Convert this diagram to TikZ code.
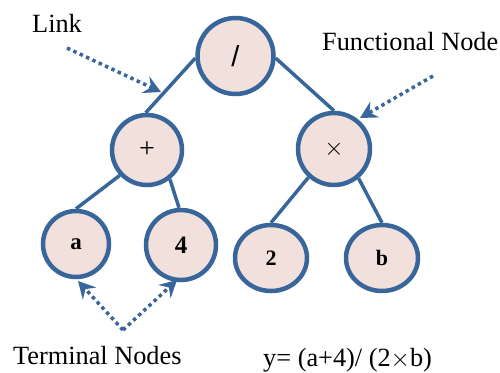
\documentclass[tikz,border=0pt]{standalone}
\usepackage{fontspec}
\setmainfont{Liberation Serif}
\newfontfamily\lsans{Liberation Sans}
\usetikzlibrary{arrows.meta,shapes.geometric}
\definecolor{edgeblue}{HTML}{38659A}
\definecolor{nodefill}{HTML}{F2E0DC}
\begin{document}
\begin{tikzpicture}[x=1pt,y=-1pt,
  tnode/.style={ellipse, draw=edgeblue, fill=nodefill, line width=4.5pt, inner sep=0pt},
  link/.style={draw=edgeblue, line width=3.5pt},
  pointer/.style={draw=edgeblue, line width=3.5pt, dash pattern=on 3.5pt off 3.5pt,
     -{Stealth[length=17pt,width=18pt,inset=6pt,fill=edgeblue]}},
  lbl/.style={font=\fontsize{26.3}{30}\selectfont, anchor=base west, inner sep=0pt}]
\useasboundingbox (0,0) rectangle (500,372);
% nodes
\node[tnode, minimum width=76pt, minimum height=76pt] (root) at (235.5,56) {\lsans\fontsize{29}{30}\selectfont /};
\node[tnode, minimum width=70pt, minimum height=70pt] (plus) at (147,150) {\fontsize{28}{30}\selectfont +};
\node[tnode, minimum width=72pt, minimum height=72pt] (times) at (334,149) {\fontsize{26}{28}\selectfont $\times$};
\node[tnode, minimum width=66pt, minimum height=66pt] (a) at (76,244) {\bfseries\fontsize{23}{25}\selectfont a};
\node[tnode, minimum width=70pt, minimum height=70pt] (four) at (181,245) {\bfseries\fontsize{25}{27}\selectfont 4};
\node[tnode, minimum width=72pt, minimum height=66pt] (two) at (271,258) {\bfseries\fontsize{22}{24}\selectfont 2};
\node[tnode, minimum width=72pt, minimum height=66pt] (b) at (382,258) {\bfseries\fontsize{22}{24}\selectfont b};
% links
\draw[link] (root.183) -- (plus.92);
\draw[link] (root.-3) -- (times.90);
\draw[link] (plus.223) -- (a.90);
\draw[link] (plus.-52) -- (four.93);
\draw[link] (times.228) -- (two.90);
\draw[link] (times.-50) -- (b.90);
% labels
\node[lbl] (linklbl) at (32,32) {Link};
\node[lbl] (funclbl) at (322,50) {Functional Node};
\node[lbl] (termlbl) at (13,364) {Terminal Nodes};
\node[lbl] (eqlbl) at (263,366) {y= (a+4)/ (2$\times$b)};
% pointers
\coordinate (linktail) at (67,48);
\coordinate (linktip) at (161,92);
\coordinate (functail) at (433,76);
\coordinate (functip) at (360,118);
\coordinate (termvertex) at (123,330);
\coordinate (termtipa) at (78,281);
\coordinate (termtipf) at (177,280);
\draw[pointer] (linktail) -- (linktip);
\draw[pointer] (functail) -- (functip);
\draw[pointer] (termvertex) -- (termtipa);
\draw[pointer] (termvertex) -- (termtipf);
\end{tikzpicture}
\end{document}
